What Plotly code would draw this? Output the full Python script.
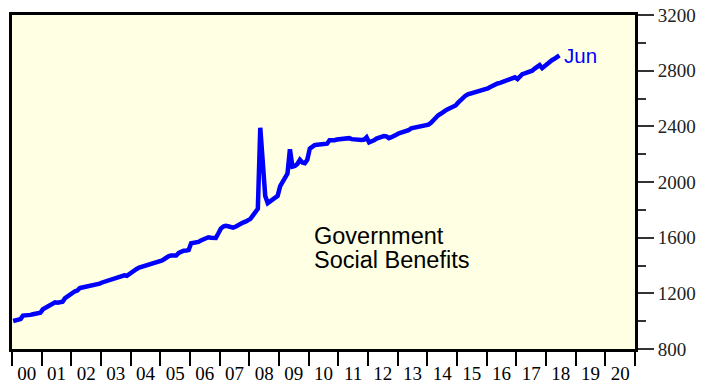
import plotly.graph_objects as go
import pandas as pd

# Monthly Government Social Benefits, Jan 2000 - Jun 2018 (billions, SAAR)
v2000 = [1001, 1005, 1010, 1015, 1040, 1040, 1038, 1045, 1050, 1055, 1058, 1060]
v2001 = [1085, 1095, 1110, 1120, 1130, 1135, 1133, 1135, 1140, 1165, 1180, 1192]
v2002 = [1205, 1215, 1220, 1238, 1242, 1245, 1250, 1255, 1260, 1263, 1267, 1270]
v2003 = [1278, 1284, 1290, 1298, 1303, 1310, 1318, 1325, 1332, 1330, 1326, 1340]
v2004 = [1355, 1365, 1375, 1385, 1390, 1394, 1398, 1405, 1410, 1412, 1418, 1425]
v2005 = [1435, 1445, 1458, 1468, 1472, 1475, 1472, 1490, 1502, 1506, 1508, 1511]
v2006 = [1560, 1563, 1566, 1570, 1580, 1590, 1597, 1603, 1600, 1595, 1598, 1630]
v2007 = [1665, 1680, 1685, 1682, 1675, 1672, 1678, 1690, 1700, 1708, 1715, 1725]
v2008 = [1735, 1760, 1778, 1808, 2390, 2120, 1900, 1848, 1860, 1868, 1885, 1900]
v2009 = [1970, 2000, 2030, 2060, 2235, 2110, 2115, 2130, 2160, 2140, 2135, 2160]
v2010 = [2240, 2255, 2265, 2268, 2270, 2268, 2270, 2275, 2300, 2298, 2300, 2305]
v2011 = [2308, 2312, 2310, 2312, 2315, 2308, 2305, 2300, 2298, 2302, 2305, 2322]
v2012 = [2285, 2290, 2300, 2312, 2320, 2325, 2330, 2328, 2315, 2322, 2335, 2340]
v2013 = [2350, 2355, 2362, 2368, 2372, 2385, 2388, 2392, 2396, 2400, 2403, 2406]
v2014 = [2412, 2425, 2445, 2465, 2480, 2490, 2505, 2515, 2525, 2532, 2540, 2550]
v2015 = [2570, 2590, 2605, 2620, 2630, 2635, 2640, 2645, 2650, 2650, 2655, 2660]
v2016 = [2672, 2682, 2692, 2700, 2708, 2712, 2718, 2725, 2730, 2735, 2748, 2752]
v2017 = [2740, 2765, 2775, 2780, 2785, 2790, 2800, 2815, 2830, 2840, 2818, 2835]
v2018 = [2852, 2865, 2875, 2885, 2898, 2910]

values = (v2000 + v2001 + v2002 + v2003 + v2004 + v2005 + v2006 + v2007 + v2008 +
          v2009 + v2010 + v2011 + v2012 + v2013 + v2014 + v2015 + v2016 + v2017 + v2018)
dates = pd.date_range("2000-01-01", periods=len(values), freq="MS") + pd.Timedelta(days=14)

y_ticks = [800, 1200, 1600, 2000, 2400, 2800, 3200]
label_text = ["Government", "Social Benefits"]
last_label = "Jun"

fig = go.Figure()
fig.add_trace(go.Scatter(x=dates, y=values, mode="lines",
                         line=dict(color="#0000FF", width=4.5), hoverinfo="skip",
                         showlegend=False))

fig.add_annotation(x=dates[-1], y=values[-1], xref="x", yref="y", text=last_label,
                   showarrow=False, xanchor="left", yanchor="middle", xshift=3,
                   font=dict(family="Liberation Sans, Arial", size=20.5, color="#0000FF"))
fig.add_annotation(x=0.481, y=0.338, xref="paper", yref="paper", text=label_text[0],
                   showarrow=False, xanchor="left", yanchor="middle",
                   font=dict(family="Liberation Sans, Arial", size=23.5, color="black"))
fig.add_annotation(x=0.481, y=0.266, xref="paper", yref="paper", text=label_text[1],
                   showarrow=False, xanchor="left", yanchor="middle",
                   font=dict(family="Liberation Sans, Arial", size=23.5, color="black"))

fig.update_layout(
    width=709, height=377,
    margin=dict(l=4, r=82, t=7, b=36),
    paper_bgcolor="white",
    plot_bgcolor="#FFFFE4",
    xaxis=dict(type="date", range=["2000-01-01", "2021-01-01"], automargin=False,
               tick0="2000-01-01", dtick="M12", tickformat="%y",
               ticklabelmode="period", ticks="outside", ticklen=14, tickwidth=2,
               ticklabelstandoff=-9, ticklabeloverflow="allow",
               tickcolor="black", showline=True, linewidth=3, linecolor="black",
               mirror=True, showgrid=False, zeroline=False,
               tickfont=dict(family="Liberation Serif, Times New Roman", size=19, color="black")),
    yaxis=dict(side="right", range=[800, 3200], tickvals=y_ticks, automargin=False,
               ticks="outside", ticklen=16, tickwidth=2, tickcolor="#333333",
               ticklabeloverflow="allow",
               minor=dict(ticks="outside", ticklen=8, tickwidth=2, tickcolor="#333333",
                          dtick=200, tick0=800, showgrid=False),
               showline=True, linewidth=3, linecolor="black", mirror=True,
               showgrid=False, zeroline=False,
               tickfont=dict(family="Liberation Serif, Times New Roman", size=19, color="#222222")),
)

fig.write_html("out.html")
